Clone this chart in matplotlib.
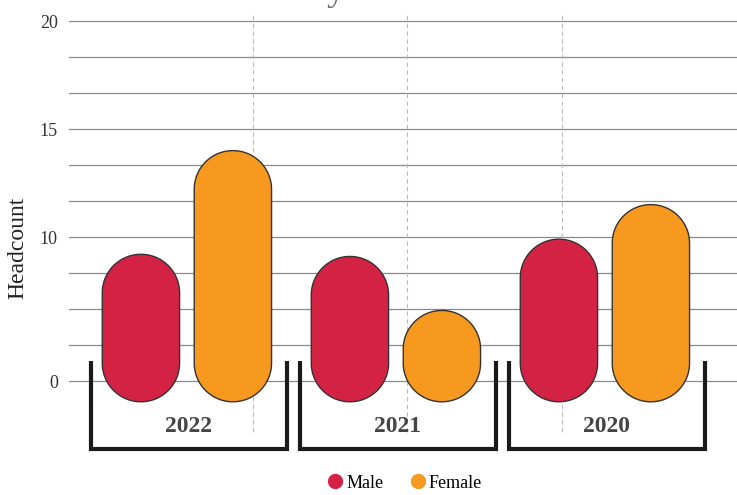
import numpy as np
import matplotlib
matplotlib.use("Agg")
import matplotlib.pyplot as plt
from matplotlib.patches import Polygon
from matplotlib.lines import Line2D

# ── Data ───────────────────────────────────────────────────────────────────────
YEARS  = ["2022", "2021", "2020"]
MALE   = [9.2, 9.1, 9.9]
FEMALE = [14.0, 6.6, 11.5]

TICK_VALUES = [20, 15, 10, 10 / 3]
TICK_LABELS = ["20", "15", "10", "0"]

# ── Style ──────────────────────────────────────────────────────────────────────
MALE_COLOR   = "#D42245"
FEMALE_COLOR = "#F7981F"
EDGE_COLOR   = "#333333"
GRID_COLOR   = "#8a8a8a"
SERIF = ["Liberation Serif", "DejaVu Serif"]

BAR_W      = 0.37
OFFSETS    = [-0.23, 0.21]
BAR_BOTTOM = 2.37
VLINES     = [0.308, 1.044, 1.783]

plt.rcParams["font.family"] = SERIF

W, H = 737, 495
fig = plt.figure(figsize=(W / 100, H / 100), dpi=100)
ax = fig.add_axes([69 / W, 0, 1 - 69 / W, 1])

# pixel-matched limits
x_lo, x_hi = (69 - 189) / 209, (737 - 189) / 209
y_hi = 20 + 21 / 21.6
y_lo = 20 - (H - 21) / 21.6
ax.set_xlim(x_lo, x_hi)
ax.set_ylim(y_lo, y_hi)

for s in ax.spines.values():
    s.set_visible(False)

# horizontal grid
for k in range(11):
    ax.axhline(20 - k * 5 / 3, color=GRID_COLOR, lw=0.9, zorder=0)

# dashed verticals
for xv in VLINES:
    ax.plot([xv, xv], [0.97, 20.42], color="#bbbbbb", lw=0.8,
            ls=(0, (4, 3)), zorder=1)

ax.set_xticks([])
ax.set_yticks(TICK_VALUES)
ax.set_yticklabels(TICK_LABELS, fontsize=13, color="#333333")
ax.tick_params(axis="y", length=0, pad=8)
ax.set_ylabel("Headcount", fontsize=17, color="#222222", labelpad=8)

# aspect: y-units per x-unit for equal pixel length
px_x = ax.bbox.width / (x_hi - x_lo)
px_y = ax.bbox.height / (y_hi - y_lo)
aspect = px_x / px_y


def pill(xc, bottom, top, w, color):
    rx = w / 2
    ry = rx * aspect
    t1 = np.linspace(0, np.pi, 60)
    t2 = np.linspace(np.pi, 2 * np.pi, 60)
    xs = np.concatenate([xc + rx * np.cos(t1), xc + rx * np.cos(t2)])
    ys = np.concatenate([top - ry + ry * np.sin(t1),
                         bottom + ry + ry * np.sin(t2)])
    ax.add_patch(Polygon(np.column_stack([xs, ys]), closed=True,
                         facecolor=color, edgecolor=EDGE_COLOR, lw=1.0,
                         zorder=3))


for i, year in enumerate(YEARS):
    pill(i + OFFSETS[0], BAR_BOTTOM, MALE[i], BAR_W, MALE_COLOR)
    pill(i + OFFSETS[1], BAR_BOTTOM, FEMALE[i], BAR_W, FEMALE_COLOR)
    # bracket
    bx0, bx1 = i - 0.470, i + 0.470
    ax.plot([bx0, bx0, bx1, bx1], [4.28, 0.17, 0.17, 4.28], color="#1a1a1a",
            lw=3.0, solid_joinstyle="miter", solid_capstyle="butt", zorder=2)
    ax.text(i, 1.25, year, ha="center", va="center", fontsize=17,
            fontweight="bold", color="#444444", zorder=4)

# title (cut off at the top, as in the source)
fig.text(385 / W, 1 + 0.5 / H, "by Gender", ha="center", va="baseline",
         fontsize=26, color="#666666")

# legend
handles = [
    Line2D([], [], marker="o", ls="none", markersize=10,
           markerfacecolor=MALE_COLOR, markeredgecolor=MALE_COLOR, label="Male"),
    Line2D([], [], marker="o", ls="none", markersize=10,
           markerfacecolor=FEMALE_COLOR, markeredgecolor=FEMALE_COLOR, label="Female"),
]
fig.legend(handles=handles, loc="center", bbox_to_anchor=(403 / W, 1 - 483 / H),
           ncol=2, frameon=False, fontsize=13, handletextpad=0.0,
           columnspacing=1.3, handlelength=1.2)

fig.savefig("out.png", dpi=100)
